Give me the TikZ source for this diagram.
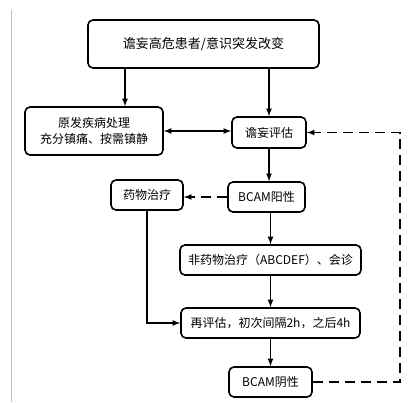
\documentclass[tikz,border=0pt]{standalone}
\usepackage{fontspec}
\newfontfamily\cjk{Noto Sans CJK SC}
\begin{document}
\begin{tikzpicture}[x=1pt, y=-1pt, line width=1.6pt,
  box/.style={draw, rounded corners=5pt, align=center, inner sep=0pt,
    font=\cjk\fontsize{12}{16}\selectfont}]
  \useasboundingbox (0,0) rectangle (409,402);
  \draw[black!25, line width=0.6pt] (11,10) -- (11,402);

  \node[box, minimum width=231pt, minimum height=48pt, font=\cjk\fontsize{13}{16}\selectfont] (V1) at (203.5,44) {谵妄高危患者/意识突发改变};
  \node[box, minimum width=138pt, minimum height=48pt] (V2) at (94,131) {原发疾病处理\\充分镇痛、按需镇静};
  \node[box, minimum width=74pt, minimum height=31pt] (V3) at (269,132.5) {谵妄评估};
  \node[box, minimum width=77pt, minimum height=30pt] (V4) at (266.5,197) {BCAM阳性};
  \node[box, minimum width=72pt, minimum height=30pt] (V5) at (147,195) {药物治疗};
  \node[box, minimum width=181pt, minimum height=30pt] (V6) at (270.5,260) {非药物治疗（ABCDEF）、会诊};
  \node[box, minimum width=179pt, minimum height=30pt] (V7) at (270.5,323) {再评估，初次间隔2h，之后4h};
  \node[box, minimum width=83pt, minimum height=30pt] (V8) at (270.5,382) {BCAM阴性};
  \coordinate (c1) at (125,0);
  \coordinate (c2) at (400,0);

  \draw[-latex] (V1.south -| c1) -- (V2.north -| c1);
  \draw[-latex] (V1.south -| V3.north) -- (V3.north);
  \draw[latex-latex] (V2.east) -- (V2.east -| V3.west);
  \draw[-latex] (V3.south) -- (V3.south |- V4.north);
  \draw[-latex, dash pattern=on 10pt off 6pt] (V4.west) -- (V4.west -| V5.east);
  \draw[-latex] (V6.north |- V4.south) -- (V6.north);
  \draw[-latex] (V6.south) -- (V7.north);
  \draw[-latex] (V7.south) -- (V8.north);
  \draw[-latex] (V5.south) |- (V7.west);
  \draw[-latex, dash pattern=on 10pt off 6pt] (V8.east) -- (V8.east -| c2) |- (V3.east);
\end{tikzpicture}
\end{document}
